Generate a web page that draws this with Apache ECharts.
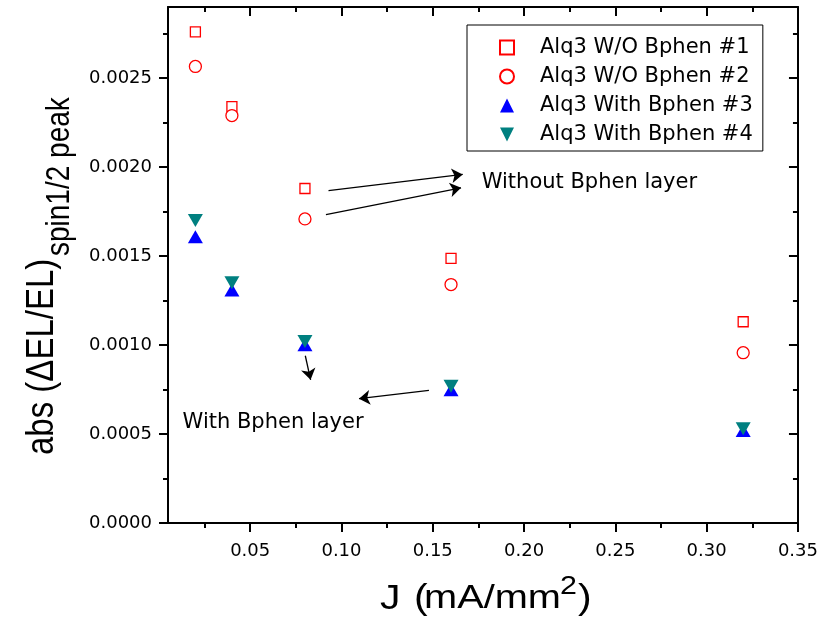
<!DOCTYPE html>
<html><head><meta charset="utf-8">
<script src="https://cdn.jsdelivr.net/npm/echarts@6/dist/echarts.min.js"></script>
<style>html,body{margin:0;padding:0;background:#fff}#c{width:821px;height:628px}</style>
</head><body><div id="c"></div>
<script>
// ---- data ----
const xValues = [0.02, 0.04, 0.08, 0.16, 0.32];
const seriesNames = ['Alq3 W/O Bphen #1', 'Alq3 W/O Bphen #2', 'Alq3 With Bphen #3', 'Alq3 With Bphen #4'];
const woBphen1 = [0.00276, 0.00234, 0.00188, 0.001487, 0.001131];
const woBphen2 = [0.002566, 0.00229, 0.001709, 0.00134, 0.000957];
const withBphen3 = [0.001609, 0.00131, 0.001002, 0.000749, 0.00052];
const withBphen4 = [0.0017, 0.00135, 0.00102, 0.000768, 0.00053];
const xRange = [0.005, 0.35];
const yRange = [0, 0.0029];
const xTicks = [0.05, 0.10, 0.15, 0.20, 0.25, 0.30, 0.35];
const xMinorTicks = [0.025, 0.075, 0.125, 0.175, 0.225, 0.275, 0.325];
const yTicks = [0, 0.0005, 0.0010, 0.0015, 0.0020, 0.0025];
const yMinorTicks = [0.00025, 0.00075, 0.00125, 0.00175, 0.00225, 0.00275];
// annotation arrows [x1, y1, x2, y2] in data units
const arrowsWithout = [[0.0929, 0.001868, 0.1664, 0.001959], [0.0915, 0.001733, 0.1655, 0.001884]];
const arrowsWith = [[0.0802, 0.00094, 0.0831, 0.000805], [0.1479, 0.000745, 0.1096, 0.000699]];
const annotationTexts = [
  { text: 'Without Bphen layer', x: 0.1768, y: 0.001913 },
  { text: 'With Bphen layer', x: 0.013, y: 0.000564 }
];

// ---- chart ----
const FONT = 'DejaVu Sans';
const chart = echarts.init(document.getElementById('c'), null, { renderer: 'canvas' });
const pair = (xs, ys) => xs.map((x, i) => [x, ys[i]]);
const DOWN_TRIANGLE = 'path://M0,0 L10,0 L5,10 Z';

function xAx(pos, ticks, len, inside, showLine, showLabel) {
  return {
    type: 'value', min: xRange[0], max: xRange[1], position: pos,
    axisLine: { show: showLine, onZero: false, lineStyle: { color: '#000', width: 2 } },
    axisTick: { show: true, inside: inside, length: len, customValues: ticks, lineStyle: { color: '#000', width: 2 } },
    axisLabel: showLabel ? { show: true, customValues: ticks, formatter: v => v.toFixed(2), color: '#000', fontFamily: FONT, fontSize: 18, margin: 19 } : { show: false },
    splitLine: { show: false }
  };
}
function yAx(pos, ticks, len, inside, showLine, showLabel) {
  return {
    type: 'value', min: yRange[0], max: yRange[1], position: pos,
    axisLine: { show: showLine, onZero: false, lineStyle: { color: '#000', width: 2 } },
    axisTick: { show: true, inside: inside, length: len, customValues: ticks, lineStyle: { color: '#000', width: 2 } },
    axisLabel: showLabel ? { show: true, customValues: ticks, formatter: v => v.toFixed(4), color: '#000', fontFamily: FONT, fontSize: 18, margin: 16 } : { show: false },
    splitLine: { show: false }
  };
}

const arrowLine = (a) => [{ coord: [a[0], a[1]] }, { coord: [a[2], a[3]] }];
const SX = 1.17; // horizontal stretch of the original rendering

const option = {
  animation: false,
  backgroundColor: '#fff',
  grid: { left: 168, top: 7, width: 632, height: 516, containLabel: false },
  xAxis: [
    xAx('bottom', xTicks, 9, false, true, true),
    xAx('bottom', xMinorTicks, 5, false, false, false),
    xAx('top', xTicks, 9, true, true, false),
    xAx('top', xMinorTicks, 5, true, false, false)
  ],
  yAxis: [
    yAx('left', yTicks, 9, false, true, true),
    yAx('left', yMinorTicks, 5, false, false, false),
    yAx('right', yTicks, 9, true, true, false),
    yAx('right', yMinorTicks, 5, true, false, false)
  ],
  legend: {
    orient: 'vertical', left: 467, top: 25,
    padding: [12, 10, 6, 32],
    itemWidth: 14, itemHeight: 14, itemGap: 8,
    symbolKeepAspect: true,
    borderColor: '#000', borderWidth: 1,
    textStyle: { fontFamily: FONT, fontSize: 21, color: '#000', lineHeight: 20, padding: [0, 0, 0, 21] },
    data: seriesNames
  },
  series: [
    { name: seriesNames[0], type: 'scatter', data: pair(xValues, woBphen1), symbol: 'rect', symbolSize: 10,
      itemStyle: { color: '#fff', borderColor: '#ff0000', borderWidth: 1.3, opacity: 1 } },
    { name: seriesNames[1], type: 'scatter', data: pair(xValues, woBphen2), symbol: 'circle', symbolSize: 12,
      itemStyle: { color: '#fff', borderColor: '#ff0000', borderWidth: 1.3, opacity: 1 } },
    { name: seriesNames[2], type: 'scatter', data: pair(xValues, withBphen3), symbol: 'triangle', symbolSize: [15, 13],
      itemStyle: { color: '#0000ff', opacity: 1 } },
    { name: seriesNames[3], type: 'scatter', data: pair(xValues, withBphen4), symbol: DOWN_TRIANGLE, symbolSize: [15, 13],
      itemStyle: { color: '#008080', opacity: 1 } },
    { name: 'annotations', type: 'scatter', silent: true, symbolSize: 0,
      itemStyle: { opacity: 1 },
      data: annotationTexts.map(a => ({ value: [a.x, a.y], label: { formatter: a.text } })),
      label: { show: true, position: 'right', distance: 0, color: '#000', fontFamily: FONT, fontSize: 21 },
      markLine: {
        silent: true, symbol: ['none', 'arrow'], symbolSize: 11, animation: false,
        label: { show: false },
        lineStyle: { color: '#000', width: 1.3, type: 'solid', opacity: 1 },
        data: arrowsWithout.concat(arrowsWith).map(arrowLine)
      }
    }
  ],
  graphic: [
    { type: 'text', x: 42, y: 455, rotation: Math.PI / 2, scaleX: 1, scaleY: SX,
      style: { text: 'abs (ΔEL/EL)', font: '33px "Liberation Sans"', fill: '#000', align: 'left', verticalAlign: 'middle' } },
    { type: 'text', x: 60, y: 256, rotation: Math.PI / 2, scaleX: 1, scaleY: SX,
      style: { text: 'spin1/2 peak', font: '28px "Liberation Sans"', fill: '#000', align: 'left', verticalAlign: 'middle' } },
    { type: 'text', x: 380, y: 599, scaleX: SX,
      style: { text: 'J', font: '35px "Liberation Sans"', fill: '#000', align: 'left', verticalAlign: 'middle' } },
    { type: 'text', x: 414, y: 599, scaleX: SX,
      style: { text: '(', font: '35px "Liberation Sans"', fill: '#000', align: 'left', verticalAlign: 'middle' } },
    { type: 'text', x: 424, y: 599, scaleX: SX,
      style: { text: 'mA/mm', font: '34px "Liberation Sans"', fill: '#000', align: 'left', verticalAlign: 'middle' } },
    { type: 'text', x: 560, y: 587, scaleX: SX,
      style: { text: '2', font: '26px "Liberation Sans"', fill: '#000', align: 'left', verticalAlign: 'middle' } },
    { type: 'text', x: 578, y: 599, scaleX: SX,
      style: { text: ')', font: '35px "Liberation Sans"', fill: '#000', align: 'left', verticalAlign: 'middle' } }
  ]
};
chart.setOption(option);
</script>
</body></html>
